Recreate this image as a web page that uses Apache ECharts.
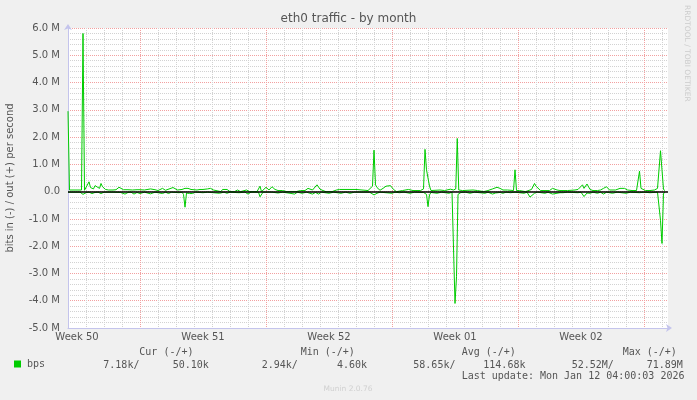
<!DOCTYPE html>
<html><head><meta charset="utf-8">
<script src="https://cdn.jsdelivr.net/npm/echarts@6.0.0/dist/echarts.min.js"></script>
<style>html,body{margin:0;padding:0;background:#f0f0f0;}#c{width:697px;height:400px;}</style>
</head><body><div id="c"></div>
<script>
// Week tick labels (placed at mid-week)
const weekLabels = ['Week 50', 'Week 51', 'Week 52', 'Week 01', 'Week 02'];
// x values are hours since the start of week 51; y values in Mbit/s
const outSamples = [
  [-96,2.95],[-94,0.06],[-78,0.06],[-76,5.8],[-74,0.05],[-72,0.06],[-68,0.36],[-66,0.15],[-62,0.1],[-60,0.22],
  [-58,0.15],[-54,0.12],[-52,0.3],[-50,0.18],[-46,0.08],[-42,0.06],[-36,0.06],[-32,0.07],[-28,0.16],[-26,0.15],
  [-22,0.07],[-16,0.07],[-10,0.06],[-8,0.1],[-4,0.07],[0,0.07],[6,0.06],[14,0.1],[16,0.05],[20,0.07],
  [24,0.04],[30,0.12],[34,0.05],[44,0.15],[46,0.08],[50,0.06],[56,0.08],[60,0.12],[64,0.12],[68,0.08],
  [76,0.06],[80,0.08],[84,0.08],[90,0.1],[94,0.12],[98,0.06],[100,0.01],[108,0.0],[110,0.08],[116,0.08],
  [120,0.0],[126,0.0],[130,0.06],[134,0.0],[142,0.06],[146,0.0],[156,0.0],[160,0.2],[162,0.0],[168,0.16],
  [172,0.06],[176,0.18],[180,0.08],[184,0.04],[190,0.04],[196,0.0],[208,0.0],[214,0.04],[220,0.04],[224,0.12],
  [226,0.16],[230,0.06],[236,0.25],[240,0.09],[244,0.04],[248,0.0],[256,0.0],[262,0.06],[266,0.08],[288,0.08],
  [290,0.04],[304,0.04],[310,0.2],[312,1.52],[314,0.25],[316,0.15],[320,0.05],[324,0.12],[328,0.2],[334,0.22],
  [338,0.08],[342,0.0],[350,0.04],[358,0.08],[364,0.04],[374,0.04],[378,0.1],[380,1.55],[382,0.8],[384,0.75],
  [386,0.2],[388,0.04],[400,0.06],[406,0.04],[414,0.09],[418,0.06],[421,0.1],[423,1.95],[425,0.06],[430,0.04],
  [444,0.06],[450,0.04],[458,0.0],[464,0.04],[470,0.1],[476,0.16],[480,0.12],[484,0.06],[490,0.06],[498,0.04],
  [500,0.8],[502,0.04],[506,0.04],[514,0.0],[522,0.08],[526,0.3],[528,0.2],[534,0.04],[540,0.04],[546,0.04],
  [550,0.12],[556,0.06],[560,0.04],[570,0.04],[580,0.06],[584,0.08],[590,0.25],[592,0.12],[596,0.28],[600,0.08],
  [604,0.04],[610,0.04],[614,0.06],[618,0.12],[622,0.18],[626,0.06],[634,0.06],[640,0.12],[646,0.12],[650,0.06],
  [656,0.04],[662,0.04],[664,0.1],[666,0.75],[668,0.12],[674,0.04],[680,0.04],[686,0.06],[690,0.12],[692,0.15],
  [694,1.5],[696,1.5],[698,0.08],[700,0.04]
];
const inSamples = [
  [-96,-0.02],[-80,-0.02],[-76,-0.1],[-72,-0.04],[-68,-0.02],[-64,-0.07],[-60,-0.03],[-56,-0.02],[-52,-0.07],[-48,-0.02],
  [-36,-0.02],[-26,-0.03],[-20,-0.09],[-16,-0.03],[-12,-0.02],[-8,-0.09],[-4,-0.03],[0,-0.07],[6,-0.02],[14,-0.08],
  [20,-0.02],[30,-0.07],[34,-0.02],[38,-0.07],[42,-0.02],[44,-0.05],[52,-0.04],[56,-0.02],[58,-0.1],[60,-0.57],
  [62,-0.05],[66,-0.07],[70,-0.07],[74,-0.02],[84,-0.04],[90,-0.02],[106,-0.06],[112,-0.02],[116,-0.06],[120,-0.02],
  [132,-0.04],[140,-0.02],[144,-0.09],[148,-0.02],[158,-0.02],[160,-0.19],[162,-0.12],[164,-0.02],[176,-0.02],[184,-0.05],
  [190,-0.02],[200,-0.06],[206,-0.09],[210,-0.02],[216,-0.06],[222,-0.02],[230,-0.09],[234,-0.03],[238,-0.09],[242,-0.02],
  [252,-0.06],[258,-0.02],[268,-0.06],[274,-0.02],[280,-0.06],[286,-0.02],[296,-0.02],[306,-0.02],[308,-0.08],[312,-0.12],
  [316,-0.06],[320,-0.02],[336,-0.06],[340,-0.02],[346,-0.04],[352,-0.02],[360,-0.06],[366,-0.02],[378,-0.03],[380,-0.09],
  [382,-0.1],[384,-0.55],[386,-0.12],[388,-0.03],[396,-0.06],[402,-0.02],[412,-0.06],[416,-0.02],[418,-0.04],[420,-4.1],
  [422,-3.12],[424,-0.1],[426,-0.12],[428,-0.03],[430,-0.06],[434,-0.02],[440,-0.06],[446,-0.02],[460,-0.06],[464,-0.02],
  [470,-0.09],[474,-0.05],[476,-0.11],[480,-0.03],[484,-0.06],[488,-0.02],[494,-0.04],[500,-0.02],[512,-0.06],[516,-0.02],
  [520,-0.2],[522,-0.14],[526,-0.06],[530,-0.02],[540,-0.06],[544,-0.02],[550,-0.09],[552,-0.02],[556,-0.06],[560,-0.04],
  [564,-0.04],[570,-0.02],[584,-0.04],[588,-0.02],[592,-0.18],[596,-0.05],[600,-0.06],[604,-0.02],[610,-0.06],[614,-0.02],
  [618,-0.09],[622,-0.02],[630,-0.06],[636,-0.02],[648,-0.06],[654,-0.02],[666,-0.04],[672,-0.02],[680,-0.04],[690,-0.02],
  [692,-0.05],[694,-1.05],[696,-1.9],[698,-0.06],[700,-0.03]
];
const legendHeaders = ['Cur (-/+)', 'Min (-/+)', 'Avg (-/+)', 'Max (-/+)'];
const legendInValues = ['7.18k/', '2.94k/', '58.65k/', '52.52M/'];
const legendOutValues = ['50.10k', '4.60k', '114.68k', '71.89M'];
const lastUpdate = 'Last update: Mon Jan 12 04:00:03 2026';
const titleText = 'eth0 traffic - by month';
const yAxisTitle = 'bits in (-) / out (+) per second';

const SANS = 'DejaVu Sans';
const MONO = 'DejaVu Sans Mono';
const TXT = '#555555';
const GREEN = '#00cc00';
const AXIS = '#c4c4ec';
const MINOR = '#d2d2d2';
const MAJOR = '#f2a0a0';

const headerX = [139.3, 300.7, 461.7, 622.7];
const inX = [103.3, 261.7, 413.3, 571.7];
const outX = [172.7, 337, 483.3, 646.7];
const graphics = [];
function monoText(x, y, t) {
  graphics.push({type: 'text', x: x, y: y, silent: true,
    style: {text: t, fontFamily: MONO, fontSize: 10, fill: TXT, textAlign: 'left', textVerticalAlign: 'middle'}});
}
legendHeaders.forEach((t, i) => monoText(headerX[i], 352.5, t));
legendInValues.forEach((t, i) => monoText(inX[i], 365, t));
legendOutValues.forEach((t, i) => monoText(outX[i], 365, t));
monoText(461.7, 376.5, lastUpdate);
graphics.push({type: 'text', x: 348, y: 389, silent: true,
  style: {text: 'Munin 2.0.76', fontFamily: SANS, fontSize: 7.5, fill: '#d0d0d0', textAlign: 'center', textVerticalAlign: 'middle'}});
graphics.push({type: 'text', x: 687, y: 5, rotation: -Math.PI / 2, silent: true,
  style: {text: 'RRDTOOL / TOBI OETIKER', fontFamily: SANS, fontSize: 7.5, fill: '#cccccc', textAlign: 'left', textVerticalAlign: 'middle'}});

const chart = echarts.init(document.getElementById('c'), null, {renderer: 'canvas'});
chart.setOption({
  backgroundColor: '#f0f0f0',
  animation: false,
  title: {text: titleText, left: 'center', top: 13, padding: 0,
    textStyle: {fontFamily: SANS, fontSize: 12, fontWeight: 'normal', color: TXT}},
  legend: {data: ['bps'], left: 14, top: 359, padding: 0, itemWidth: 7, itemHeight: 7, icon: 'rect',
    selectedMode: false, textStyle: {fontFamily: MONO, fontSize: 10, color: TXT, padding: [0, 0, 0, 1]}},
  graphic: graphics,
  grid: [
    {left: 68, top: 28, width: 600, height: 300, show: true, backgroundColor: '#ffffff', borderWidth: 0,
      outerBoundsMode: 'none', containLabel: false},
    {left: 14, top: 28, width: 654, height: 300, show: false, outerBoundsMode: 'none', containLabel: false},
    {left: 77, top: 28, width: 591, height: 300, show: false, outerBoundsMode: 'none', containLabel: false}
  ],
  xAxis: [
    {gridIndex: 0, type: 'value', min: -96, max: 704, interval: 24,
      axisLine: {show: true, onZero: false, symbol: ['none', 'arrow'], symbolSize: [6, 6], symbolOffset: [0, 4],
        lineStyle: {color: AXIS, width: 1}},
      axisTick: {show: false}, axisLabel: {show: false},
      splitLine: {show: true, showMinLine: false, showMaxLine: false, lineStyle: {color: MINOR, type: [1, 1], width: 1}}},
    {gridIndex: 1, type: 'value', min: -168, max: 704, interval: 168,
      axisLine: {show: false}, axisTick: {show: false}, axisLabel: {show: false},
      splitLine: {show: true, showMinLine: false, showMaxLine: false, lineStyle: {color: MAJOR, type: [1, 1], width: 1}}},
    {gridIndex: 2, type: 'value', min: -84, max: 704, interval: 168,
      axisLine: {show: false}, axisTick: {show: false}, splitLine: {show: false},
      axisLabel: {show: true, showMinLabel: true, showMaxLabel: false, margin: 4,
        fontFamily: SANS, fontSize: 10, color: TXT,
        formatter: v => weekLabels[Math.round((v + 84) / 168)] || ''}}
  ],
  yAxis: [
    {gridIndex: 0, type: 'value', min: -5, max: 6, interval: 1,
      name: yAxisTitle, nameLocation: 'middle', nameGap: 53, nameRotate: 90,
      nameTextStyle: {fontFamily: SANS, fontSize: 10, color: TXT},
      axisLine: {show: true, onZero: false, symbol: ['none', 'arrow'], symbolSize: [6, 6], symbolOffset: [0, 4],
        lineStyle: {color: AXIS, width: 1}},
      axisTick: {show: false},
      axisLabel: {margin: 8, fontFamily: SANS, fontSize: 10, color: TXT,
        formatter: v => v === 0 ? '0.0' : v.toFixed(1) + ' M'},
      splitLine: {show: true, lineStyle: {color: MAJOR, type: [1, 1], width: 1}},
      minorTick: {show: false, splitNumber: 5},
      minorSplitLine: {show: true, lineStyle: {color: MINOR, type: [1, 1], width: 1}}},
    {gridIndex: 1, type: 'value', min: 0, max: 1, show: false},
    {gridIndex: 2, type: 'value', min: 0, max: 1, show: false}
  ],
  series: [
    {type: 'line', name: 'bps', xAxisIndex: 0, yAxisIndex: 0, data: outSamples,
      showSymbol: false, symbol: 'none', silent: true, z: 3,
      lineStyle: {color: GREEN, width: 1}, itemStyle: {color: GREEN}},
    {type: 'line', name: 'bps', xAxisIndex: 0, yAxisIndex: 0, data: inSamples,
      showSymbol: false, symbol: 'none', silent: true, z: 3,
      lineStyle: {color: GREEN, width: 1}, itemStyle: {color: GREEN},
      markLine: {silent: true, symbol: 'none', label: {show: false}, animation: false,
        lineStyle: {color: '#000000', width: 1.5, type: 'solid'}, data: [{yAxis: 0}]}}
  ]
});
</script></body></html>
